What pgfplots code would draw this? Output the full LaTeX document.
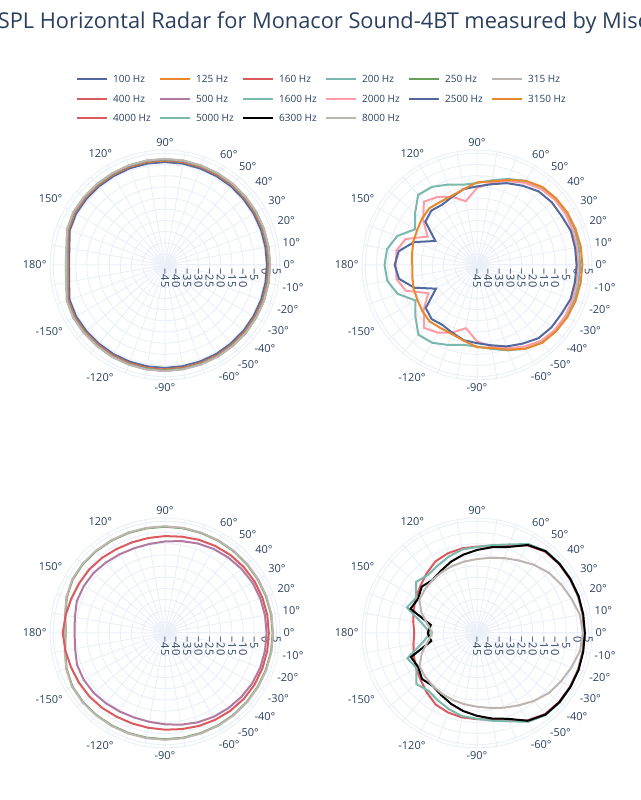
\documentclass[border=0pt]{standalone}
\usepackage{fontspec}
\setmainfont{Open Sans}
\usepackage{pgfplots}
\usepackage{pgfplotstable}
\pgfplotsset{compat=1.18}
\usepgfplotslibrary{polar}

\definecolor{txt}{HTML}{2A3F5F}
\definecolor{gridc}{HTML}{EBF0F8}
\definecolor{cblue}{HTML}{52699E}
\definecolor{corange}{HTML}{E8892F}
\definecolor{cred}{HTML}{DB5A5E}
\definecolor{cteal}{HTML}{7BB8AE}
\definecolor{cgreen}{HTML}{6A9F58}
\definecolor{cgray}{HTML}{BDB5B0}
\definecolor{cpurple}{HTML}{B07AA1}
\definecolor{cpink}{HTML}{FF9DA7}

% SPL in dB against angle in degrees, one table per panel
\pgfplotstableread{
ang f100 f125 f160 f200 f250 f315
-180 -2.0 -1.5 -1.3 -1.0 -0.9 -0.8
-170 -1.4 -0.8 -0.6 -0.3 -0.2 -0.1
-160 0.5 1.1 1.3 1.6 1.7 1.8
-150 1.0 1.7 1.9 2.2 2.3 2.4
-140 1.0 1.7 1.9 2.2 2.3 2.4
-130 1.0 1.7 1.9 2.2 2.3 2.4
-120 1.1 1.8 2.0 2.3 2.4 2.5
-110 1.1 1.8 2.0 2.3 2.4 2.5
-100 1.1 1.8 2.0 2.3 2.4 2.5
-90 1.1 1.8 2.0 2.3 2.4 2.5
-80 1.0 1.7 1.9 2.2 2.3 2.4
-70 1.0 1.7 1.9 2.2 2.3 2.4
-60 1.0 1.7 1.9 2.2 2.3 2.4
-50 0.9 1.6 1.8 2.1 2.2 2.3
-40 0.9 1.6 1.8 2.1 2.2 2.3
-30 0.8 1.5 1.7 2.0 2.1 2.2
-20 0.8 1.5 1.7 2.0 2.1 2.2
-10 0.7 1.4 1.6 1.9 2.0 2.1
0 0.7 1.4 1.6 1.9 2.0 2.1
10 0.7 1.4 1.6 1.9 2.0 2.1
20 0.8 1.5 1.7 2.0 2.1 2.2
30 0.9 1.6 1.8 2.1 2.2 2.3
40 0.9 1.6 1.8 2.1 2.2 2.3
50 1.0 1.7 1.9 2.2 2.3 2.4
60 1.0 1.7 1.9 2.2 2.3 2.4
70 1.0 1.7 1.9 2.2 2.3 2.4
80 1.1 1.8 2.0 2.3 2.4 2.5
90 1.1 1.8 2.0 2.3 2.4 2.5
100 1.1 1.8 2.0 2.3 2.4 2.5
110 1.1 1.8 2.0 2.3 2.4 2.5
120 1.0 1.7 1.9 2.2 2.3 2.4
130 1.0 1.7 1.9 2.2 2.3 2.4
140 1.0 1.7 1.9 2.2 2.3 2.4
150 1.0 1.7 1.9 2.2 2.3 2.4
160 0.4 1.0 1.2 1.5 1.6 1.7
170 -1.5 -0.9 -0.7 -0.4 -0.3 -0.2
180 -2.0 -1.5 -1.3 -1.0 -0.9 -0.8
}\tl

\pgfplotstableread{
ang f1600 f2000 f2500 f3150
-180 -3.6 -8.8 -8.1 -16.0
-170 -4.2 -8.4 -9.5 -15.6
-160 -7.2 -11.2 -15.2 -14.7
-150 -13.2 -19.8 -23.8 -14.1
-140 -9.0 -13.8 -15.0 -13.0
-130 -4.2 -8.2 -13.4 -12.0
-120 -4.8 -10.0 -14.0 -12.4
-110 -6.9 -12.8 -12.7 -12.1
-100 -8.7 -16.3 -10.8 -10.6
-90 -8.5 -10.8 -10.0 -8.2
-80 -6.8 -7.8 -8.5 -7.2
-70 -4.3 -5.3 -6.2 -4.6
-60 -1.7 -2.8 -4.3 -1.7
-50 0.2 -0.6 -2.2 0.5
-40 1.1 0.4 -1.5 1.2
-30 1.5 0.7 -1.3 1.7
-20 1.4 0.5 -0.4 2.0
-10 1.2 0.3 -0.5 2.1
0 1.2 0.3 -0.4 2.2
10 1.3 0.4 -0.4 2.2
20 1.5 0.6 -0.3 2.0
30 1.6 0.8 -1.2 1.8
40 1.2 0.5 -1.3 1.3
50 0.3 -0.5 -2.0 0.6
60 -1.5 -2.5 -4.0 -1.5
70 -4.0 -5.0 -6.0 -4.5
80 -6.5 -7.5 -8.3 -7.0
90 -8.3 -10.5 -9.8 -8.0
100 -8.5 -16.0 -10.5 -10.5
110 -6.7 -12.5 -12.5 -12.0
120 -4.6 -9.8 -13.8 -12.3
130 -4.0 -8.0 -13.2 -11.8
140 -8.8 -13.5 -14.8 -12.8
150 -13.0 -19.5 -23.5 -14.0
160 -7.0 -11.0 -15.0 -14.6
170 -4.1 -8.3 -9.4 -15.5
180 -3.6 -8.8 -8.1 -16.0
}\tr

\pgfplotstableread{
ang fg fy f400 f500
-180 -0.5 -0.3 0.8 -4.5
-170 0.4 0.6 0.3 -4.1
-160 1.9 2.1 -0.2 -3.1
-150 2.9 3.1 -0.5 -3.0
-140 3.0 3.2 -0.8 -3.3
-130 2.9 3.1 -1.2 -3.9
-120 2.8 3.0 -1.7 -4.4
-110 2.7 2.9 -1.9 -4.7
-100 2.6 2.8 -1.9 -4.6
-90 2.6 2.8 -1.7 -4.1
-80 2.6 2.8 -1.3 -3.3
-70 2.6 2.8 -0.7 -2.4
-60 2.7 2.9 -0.1 -1.6
-50 2.8 3.0 0.5 -1.0
-40 2.9 3.1 1.0 -0.4
-30 3.0 3.2 1.3 0.1
-20 3.1 3.3 1.4 0.4
-10 3.2 3.4 1.5 0.5
0 3.2 3.4 1.5 0.5
10 3.2 3.4 1.5 0.5
20 3.1 3.3 1.4 0.4
30 3.0 3.2 1.3 0.2
40 2.9 3.1 1.0 -0.3
50 2.8 3.0 0.6 -0.9
60 2.7 2.9 0.0 -1.5
70 2.6 2.8 -0.6 -2.3
80 2.6 2.8 -1.2 -3.2
90 2.6 2.8 -1.6 -4.0
100 2.6 2.8 -1.8 -4.5
110 2.7 2.9 -1.8 -4.6
120 2.8 3.0 -1.6 -4.3
130 2.9 3.1 -1.1 -3.8
140 3.0 3.2 -0.7 -3.2
150 2.8 3.0 -0.6 -3.0
160 1.8 2.0 -0.3 -3.0
170 0.3 0.5 0.2 -4.0
180 -0.5 -0.3 0.8 -4.5
}\bl

\pgfplotstableread{
ang f4000 f5000 f6300 f8000
-180 -16.9 -24.0 -22.9 -25.0
-170 -16.1 -20.3 -24.2 -22.6
-160 -14.9 -11.8 -13.5 -18.7
-150 -13.5 -13.7 -14.6 -15.3
-140 -12.1 -9.5 -12.9 -14.6
-130 -10.1 -11.2 -14.1 -14.1
-120 -8.0 -10.1 -12.9 -13.6
-110 -7.1 -8.6 -11.2 -13.1
-100 -6.6 -7.2 -9.5 -12.6
-90 -6.4 -6.6 -7.9 -12.0
-80 -5.6 -5.1 -6.1 -10.9
-70 -3.6 -2.9 -4.1 -9.4
-60 0.2 0.9 0.4 -7.6
-50 2.4 2.9 2.7 -5.3
-40 3.0 3.4 3.2 -3.1
-30 3.1 3.4 3.3 -1.6
-20 3.1 3.3 3.4 0.0
-10 3.0 3.2 3.3 1.8
0 3.0 3.2 3.3 2.4
10 3.0 3.2 3.3 1.8
20 3.1 3.3 3.4 0.0
30 3.1 3.5 3.3 -1.5
40 3.0 3.4 3.2 -3.0
50 2.5 3.0 2.8 -5.2
60 0.3 1.0 0.5 -7.5
70 -3.5 -2.8 -4.0 -9.3
80 -5.5 -5.0 -6.0 -10.8
90 -6.3 -6.5 -7.8 -11.9
100 -6.5 -7.0 -9.4 -12.5
110 -7.0 -8.5 -11.0 -13.0
120 -7.9 -10.0 -12.8 -13.5
130 -10.0 -11.0 -14.0 -14.0
140 -12.0 -9.4 -12.7 -14.5
150 -13.4 -13.5 -14.5 -15.2
160 -14.8 -11.6 -13.3 -18.5
170 -16.0 -20.0 -24.0 -22.5
180 -16.9 -24.0 -22.9 -25.0
}\br

% radius axis runs from -45 dB at the centre; data are shifted by +45
\pgfplotsset{radar/.style={
  width=230pt, height=230pt, scale only axis, anchor=center,
  ymin=0, ymax=51.5,
  xtick={0,10,20,30,40,50,60,90,120,150,180,210,240,270,300,310,320,330,340,350},
  xticklabels={0°,10°,20°,30°,40°,50°,60°,90°,120°,150°,180°,-150°,-120°,-90°,-60°,-50°,-40°,-30°,-20°,-10°},
  minor xtick={70,80,100,110,130,140,160,170,190,200,220,230,250,260,280,290},
  ytick={0,5,...,50},
  yticklabels={−45,−40,−35,−30,−25,−20,−15,−10,−5,0,5},
  grid=both,
  major grid style={draw=gridc, line width=1pt},
  minor grid style={draw=gridc, line width=1pt},
  axis line style={draw=gridc, line width=1pt},
  major tick length=0pt, minor tick length=0pt,
  tick label style={font=\fontsize{11}{13}\selectfont, text=txt},
  yticklabel style={rotate=-90, anchor=west},
  every axis plot/.append style={line width=2pt, no markers},
}}

\begin{document}
\begin{tikzpicture}
\useasboundingbox (0pt,0pt) rectangle (640pt,800pt);
\clip (0pt,0pt) rectangle (640pt,800pt);

\node[font=\fontsize{21.8}{26}\selectfont, text=txt] at (323pt,777pt)
  {SPL Horizontal Radar for Monacor Sound-4BT measured by Misc};

% legend
\foreach \c/\r/\col/\lab in {
  0/0/cblue/100 Hz, 1/0/corange/125 Hz, 2/0/cred/160 Hz, 3/0/cteal/200 Hz, 4/0/cgreen/250 Hz, 5/0/cgray/315 Hz,
  0/1/cred/400 Hz, 1/1/cpurple/500 Hz, 2/1/cteal/1600 Hz, 3/1/cpink/2000 Hz, 4/1/cblue/2500 Hz, 5/1/corange/3150 Hz,
  0/2/cred/4000 Hz, 1/2/cteal/5000 Hz, 2/2/black/6300 Hz, 3/2/cgray/8000 Hz}{
  \draw[\col, line width=2pt] ({(76.7+83*\c)*1pt}, {(720.7-19.5*\r)*1pt}) -- ++(30pt,0pt)
    node[anchor=west, inner sep=0pt, xshift=5.5pt, text=txt, font=\fontsize{10}{12}\selectfont] {\lab};
}

\begin{polaraxis}[radar, at={(165pt,535pt)}]
\addplot[cblue] table[x=ang, y expr=\thisrow{f100}+45] {\tl};
\addplot[corange] table[x=ang, y expr=\thisrow{f125}+45] {\tl};
\addplot[cred] table[x=ang, y expr=\thisrow{f160}+45] {\tl};
\addplot[cteal] table[x=ang, y expr=\thisrow{f200}+45] {\tl};
\addplot[cgreen] table[x=ang, y expr=\thisrow{f250}+45] {\tl};
\addplot[cgray] table[x=ang, y expr=\thisrow{f315}+45] {\tl};
\end{polaraxis}

\begin{polaraxis}[radar, at={(477pt,535pt)}]
\addplot[cteal] table[x=ang, y expr=\thisrow{f1600}+45] {\tr};
\addplot[cpink] table[x=ang, y expr=\thisrow{f2000}+45] {\tr};
\addplot[cblue] table[x=ang, y expr=\thisrow{f2500}+45] {\tr};
\addplot[corange] table[x=ang, y expr=\thisrow{f3150}+45] {\tr};
\end{polaraxis}

\begin{polaraxis}[radar, at={(165pt,167pt)}]
\addplot[cgreen] table[x=ang, y expr=\thisrow{fg}+45] {\bl};
\addplot[cgray] table[x=ang, y expr=\thisrow{fy}+45] {\bl};
\addplot[cred] table[x=ang, y expr=\thisrow{f400}+45] {\bl};
\addplot[cpurple] table[x=ang, y expr=\thisrow{f500}+45] {\bl};
\end{polaraxis}

\begin{polaraxis}[radar, at={(477pt,167pt)}]
\addplot[cred] table[x=ang, y expr=\thisrow{f4000}+45] {\br};
\addplot[cteal] table[x=ang, y expr=\thisrow{f5000}+45] {\br};
\addplot[black] table[x=ang, y expr=\thisrow{f6300}+45] {\br};
\addplot[cgray] table[x=ang, y expr=\thisrow{f8000}+45] {\br};
\end{polaraxis}
\end{tikzpicture}
\end{document}
